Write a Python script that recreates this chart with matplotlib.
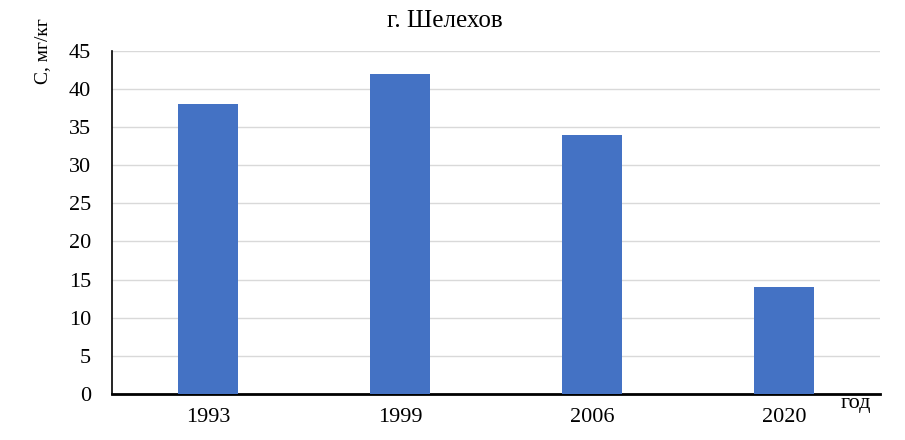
import matplotlib
matplotlib.use('Agg')
import matplotlib.pyplot as plt
import numpy as np

# data
years = ['1993', '1999', '2006', '2020']
values = [38, 42, 34, 14]
yticks = [0, 5, 10, 15, 20, 25, 30, 35, 40, 45]

plt.rcParams['font.family'] = ['Liberation Serif', 'DejaVu Serif']

fig = plt.figure(figsize=(9.05, 4.4), dpi=100)
ax = fig.add_axes([0.1238, 0.1045, 0.8486, 0.780])

x = np.arange(len(years))
ax.bar(x, values, width=0.31, color='#4472C4', zorder=3)

ax.set_xlim(-0.5, len(years) - 0.5)
ax.set_ylim(0, 45)
ax.set_yticks(yticks)
ax.set_xticks(x)
ax.set_xticklabels(years)
ax.tick_params(axis='both', length=0, labelsize=16)
ax.tick_params(axis='x', pad=10)
ax.tick_params(axis='y', pad=15)

ax.yaxis.grid(True, color='#d9d9d9', linewidth=1, zorder=0)
ax.set_axisbelow(True)

for s in ['top', 'right']:
    ax.spines[s].set_visible(False)
ax.spines['left'].set_linewidth(1.2)
ax.spines['bottom'].set_linewidth(2)

fig.text(0.492, 0.952, 'г. Шелехов', ha='center', va='center', fontsize=18)
fig.text(0.047, 0.885, 'C, мг/кг', ha='center', va='center', rotation=90, fontsize=14)
fig.text(0.946, 0.083, 'год', ha='center', va='center', fontsize=16)

fig.savefig('out.png', dpi=100)
